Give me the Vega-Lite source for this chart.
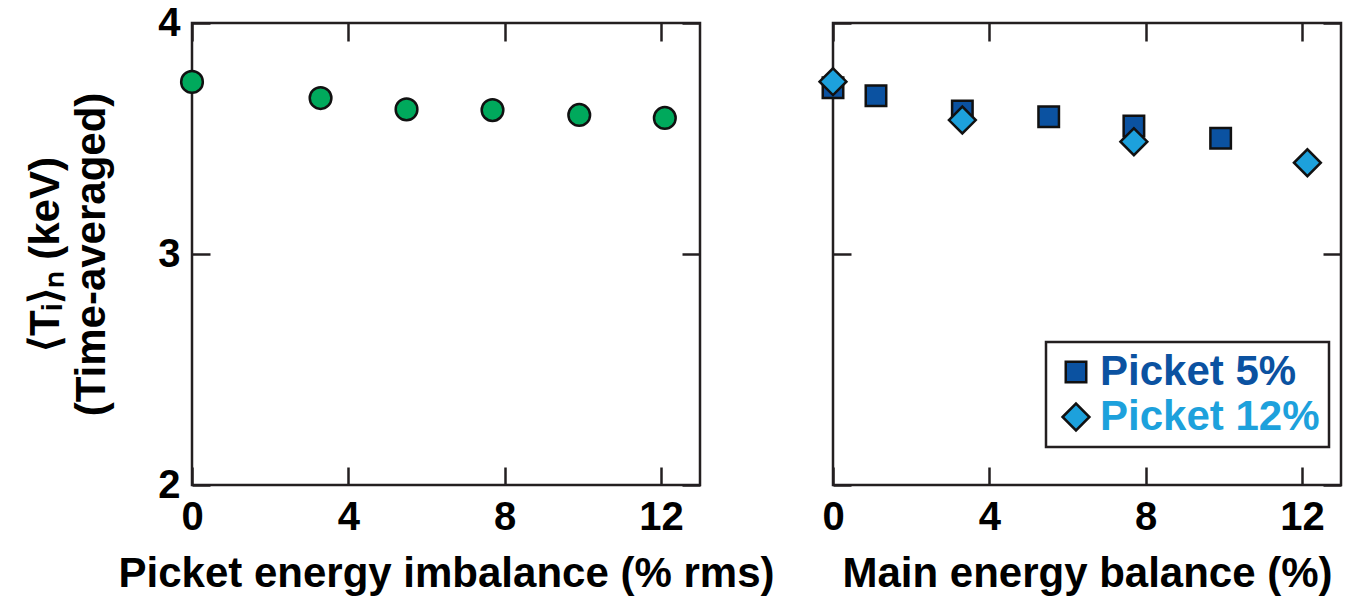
{
  "$schema": "https://vega.github.io/schema/vega-lite/v6.json",
  "background": "white",
  "padding": {"left": 23, "top": 1, "right": 5, "bottom": 5},
  "spacing": 37,
  "config": {
    "font": "Liberation Sans",
    "view": {"stroke": "#231f20", "strokeWidth": 2.5},
    "axis": {
      "domain": false,
      "grid": false,
      "tickSize": -18,
      "tickWidth": 2.5,
      "tickColor": "#231f20",
      "labelFont": "Liberation Sans",
      "labelFontSize": 40,
      "labelFontWeight": "bold",
      "labelColor": "#000000",
      "labelPadding": 30,
      "labelFlush": false,
      "format": "d",
      "titleFont": "Liberation Sans",
      "titleFontSize": 42,
      "titleFontWeight": "bold",
      "titleColor": "#000000"
    },
    "legend": {
      "orient": "none",
      "legendX": 854,
      "legendY": 319,
      "title": null,
      "strokeColor": "#231f20",
      "strokeWidth": 2.5,
      "padding": 9,
      "labelFont": "Liberation Sans",
      "labelFontSize": 42,
      "labelFontWeight": "bold",
      "labelOffset": 3,
      "labelLimit": 400,
      "rowPadding": 3,
      "symbolStrokeColor": "#111111",
      "symbolStrokeWidth": 2.5,
      "symbolOpacity": 1
    }
  },
  "datasets": {
    "imbalance": [
      {"x": 0.0, "ti": 3.745},
      {"x": 3.29, "ti": 3.675},
      {"x": 5.49, "ti": 3.626},
      {"x": 7.69, "ti": 3.623},
      {"x": 9.91, "ti": 3.602},
      {"x": 12.1, "ti": 3.589}
    ],
    "balance": [
      {"series": "Picket 5%", "x": 0.0, "ti": 3.72},
      {"series": "Picket 5%", "x": 1.1, "ti": 3.685},
      {"series": "Picket 5%", "x": 3.31, "ti": 3.619},
      {"series": "Picket 5%", "x": 5.52, "ti": 3.594},
      {"series": "Picket 5%", "x": 7.7, "ti": 3.554},
      {"series": "Picket 5%", "x": 9.92, "ti": 3.501},
      {"series": "Picket 12%", "x": 0.0, "ti": 3.746},
      {"series": "Picket 12%", "x": 3.31, "ti": 3.58},
      {"series": "Picket 12%", "x": 7.7, "ti": 3.486},
      {"series": "Picket 12%", "x": 12.14, "ti": 3.395}
    ]
  },
  "hconcat": [
    {
      "width": 508,
      "height": 462,
      "data": {"name": "imbalance"},
      "layer": [
        {
          "mark": {"type": "point", "shape": "circle", "filled": true, "size": 470, "fill": "#00a95c", "stroke": "#111111", "strokeWidth": 2.5, "opacity": 1},
          "encoding": {
            "x": {"field": "x", "type": "quantitative", "scale": {"domain": [0, 13], "nice": false},
                  "axis": {"orient": "bottom", "values": [0, 4, 8, 12], "title": "Picket energy imbalance (% rms)", "titlePadding": 16}},
            "y": {"field": "ti", "type": "quantitative", "scale": {"domain": [2, 4], "nice": false, "zero": false},
                  "axis": {"orient": "left", "values": [2, 3, 4], "title": ["⟨Tᵢ⟩ₙ (keV)", "(Time-averaged)"], "titlePadding": 44, "titleLineHeight": 46}}
          }
        },
        {
          "mark": {"type": "point", "opacity": 0},
          "encoding": {
            "x": {"field": "x", "type": "quantitative", "axis": {"orient": "top", "values": [0, 4, 8, 12], "labels": false, "title": null}},
            "y": {"field": "ti", "type": "quantitative", "axis": {"orient": "right", "values": [2, 3, 4], "labels": false, "title": null}}
          }
        }
      ],
      "resolve": {"axis": {"x": "independent", "y": "independent"}}
    },
    {
      "width": 508,
      "height": 462,
      "data": {"name": "balance"},
      "layer": [
        {
          "mark": {"type": "point", "filled": true, "stroke": "#111111", "strokeWidth": 2.5, "opacity": 1},
          "encoding": {
            "x": {"field": "x", "type": "quantitative", "scale": {"domain": [0, 13], "nice": false},
                  "axis": {"orient": "bottom", "values": [0, 4, 8, 12], "title": "Main energy balance (%)", "titlePadding": 16}},
            "y": {"field": "ti", "type": "quantitative", "scale": {"domain": [2, 4], "nice": false, "zero": false},
                  "axis": {"orient": "left", "values": [2, 3, 4], "labels": false, "title": null}},
            "color": {"field": "series", "type": "nominal",
                      "scale": {"domain": ["Picket 5%", "Picket 12%"], "range": ["#0b52a1", "#1da1dc"]},
                      "legend": {"encode": {"labels": {"update": {"fill": {"signal": "datum.label === 'Picket 5%' ? '#0b52a1' : '#1da1dc'"}}}}}},
            "shape": {"field": "series", "type": "nominal",
                      "scale": {"domain": ["Picket 5%", "Picket 12%"], "range": ["square", "diamond"]}},
            "size": {"field": "series", "type": "nominal",
                     "scale": {"domain": ["Picket 5%", "Picket 12%"], "range": [420, 720]}}
          }
        },
        {
          "mark": {"type": "point", "opacity": 0},
          "encoding": {
            "x": {"field": "x", "type": "quantitative", "axis": {"orient": "top", "values": [0, 4, 8, 12], "labels": false, "title": null}},
            "y": {"field": "ti", "type": "quantitative", "axis": {"orient": "right", "values": [2, 3, 4], "labels": false, "title": null}}
          }
        }
      ],
      "resolve": {"axis": {"x": "independent", "y": "independent"}}
    }
  ]
}
